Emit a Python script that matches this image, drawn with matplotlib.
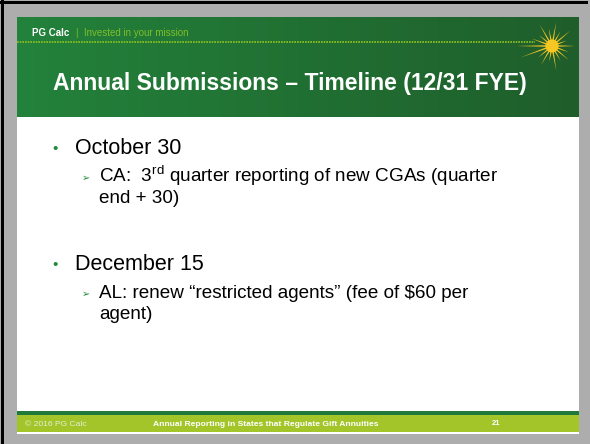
import numpy as np
import matplotlib.pyplot as plt
from matplotlib.colors import LinearSegmentedColormap
from matplotlib.patches import Rectangle, Polygon

plt.rcParams['font.family'] = ['Liberation Sans', 'DejaVu Sans']
plt.rcParams['mathtext.fontset'] = 'custom'
plt.rcParams['mathtext.rm'] = 'Liberation Sans'
plt.rcParams['mathtext.it'] = 'Liberation Sans'

# slide content
brand = "PG Calc"
tagline = "|  Invested in your mission"
title = "Annual Submissions \u2013 Timeline (12/31 FYE)"
dates = ["October 30", "December 15"]
details = [
    ["CA:  $\\mathrm{3^{rd}}$ quarter reporting of new CGAs (quarter", "end + 30)"],
    ["AL: renew \u201crestricted agents\u201d (fee of $60 per", "agent)"],
]
footer_left = "\u00a9 2016 PG Calc"
footer_mid = "Annual Reporting in States that Regulate Gift Annuities"
page_no = "21"

fig = plt.figure(figsize=(5.9, 4.44), dpi=100)
fig.patch.set_facecolor('#adadad')
ax = fig.add_axes([0, 0, 1, 1])
ax.set_xlim(0, 590)
ax.set_ylim(444, 0)
ax.axis('off')

# window border
ax.add_patch(Rectangle((1, 0), 3, 444, color='black', lw=0))
ax.add_patch(Rectangle((0, 1), 588, 3, color='black', lw=0))

# header gradient
cmap = LinearSegmentedColormap.from_list('hdr', ['#23823b', '#1f5e2b'])
grad = np.linspace(0, 1, 256).reshape(1, -1)
ax.imshow(grad, cmap=cmap, extent=(17, 579, 117, 18), aspect='auto', zorder=1)

# white body
ax.add_patch(Rectangle((17, 117), 562, 294, color='white', lw=0, zorder=1))
# footer
ax.add_patch(Rectangle((17, 411), 562, 4, color='#1f7a3a', lw=0, zorder=2))
ax.add_patch(Rectangle((17, 415), 562, 17, color='#a3c52a', lw=0, zorder=2))
ax.add_patch(Rectangle((17, 432), 562, 1.5, color='white', lw=0, zorder=2))

# dotted line in header
ax.plot([17, 535], [42, 42], color='#8fc31f', lw=1.2, ls=(0, (1, 0.6)), zorder=3)

# starburst
cx, cy = 552, 46
rad = [23, 16, 24, 17, 24, 18, 25, 17, 22, 36, 34, 18, 22, 16, 25, 17, 22, 18]
n = len(rad)
pts = []
for i, r in enumerate(rad):
    a = 2 * np.pi * i / n
    pts.append((cx + r * np.cos(a), cy - r * np.sin(a)))
    a2 = a + np.pi / n
    pts.append((cx + 4.5 * np.cos(a2), cy - 4.5 * np.sin(a2)))
ax.add_patch(Polygon(pts, closed=True, color='#f6c623', lw=0, zorder=4))
ax.add_patch(plt.Circle((cx, cy), 6.5, color='#f6c623', lw=0, zorder=4))

# header text
ax.text(32, 36, brand, color='white', fontsize=7, fontweight='bold', va='baseline', zorder=5)
ax.text(76, 36, tagline, color='#7fbf2a', fontsize=7, va='baseline', zorder=5)
ax.text(53, 90, title, color='white', fontsize=16.5, fontweight='bold', va='baseline', zorder=5)

# bullets
y0 = [154, 270]
for d, sub, y in zip(dates, details, y0):
    ax.text(52, y - 1, "\u2022", color='#1e8a3a', fontsize=11, va='baseline', zorder=5)
    ax.text(75, y, d, color='black', fontsize=15.5, va='baseline', zorder=5)
    ax.text(82, y + 27, "\u27a2", color='#1e8a3a', fontsize=7, va='baseline',
            family=['DejaVu Sans'], zorder=5)
    for k, line in enumerate(sub):
        ax.text(99, y + 28 + k * 21, line, color='black', fontsize=13.6, va='baseline', zorder=5)

# footer text
ax.text(25, 426, footer_left, color='#e8efd2', fontsize=6.1, va='baseline', zorder=5)
ax.text(266, 426, footer_mid, color='white', fontsize=6.1, fontweight='bold', ha='center', va='baseline', zorder=5)
ax.text(496, 425, page_no, color='white', fontsize=5.5, fontweight='bold', ha='center', va='baseline', zorder=5)

fig.savefig('out.png', dpi=100, facecolor=fig.get_facecolor())
